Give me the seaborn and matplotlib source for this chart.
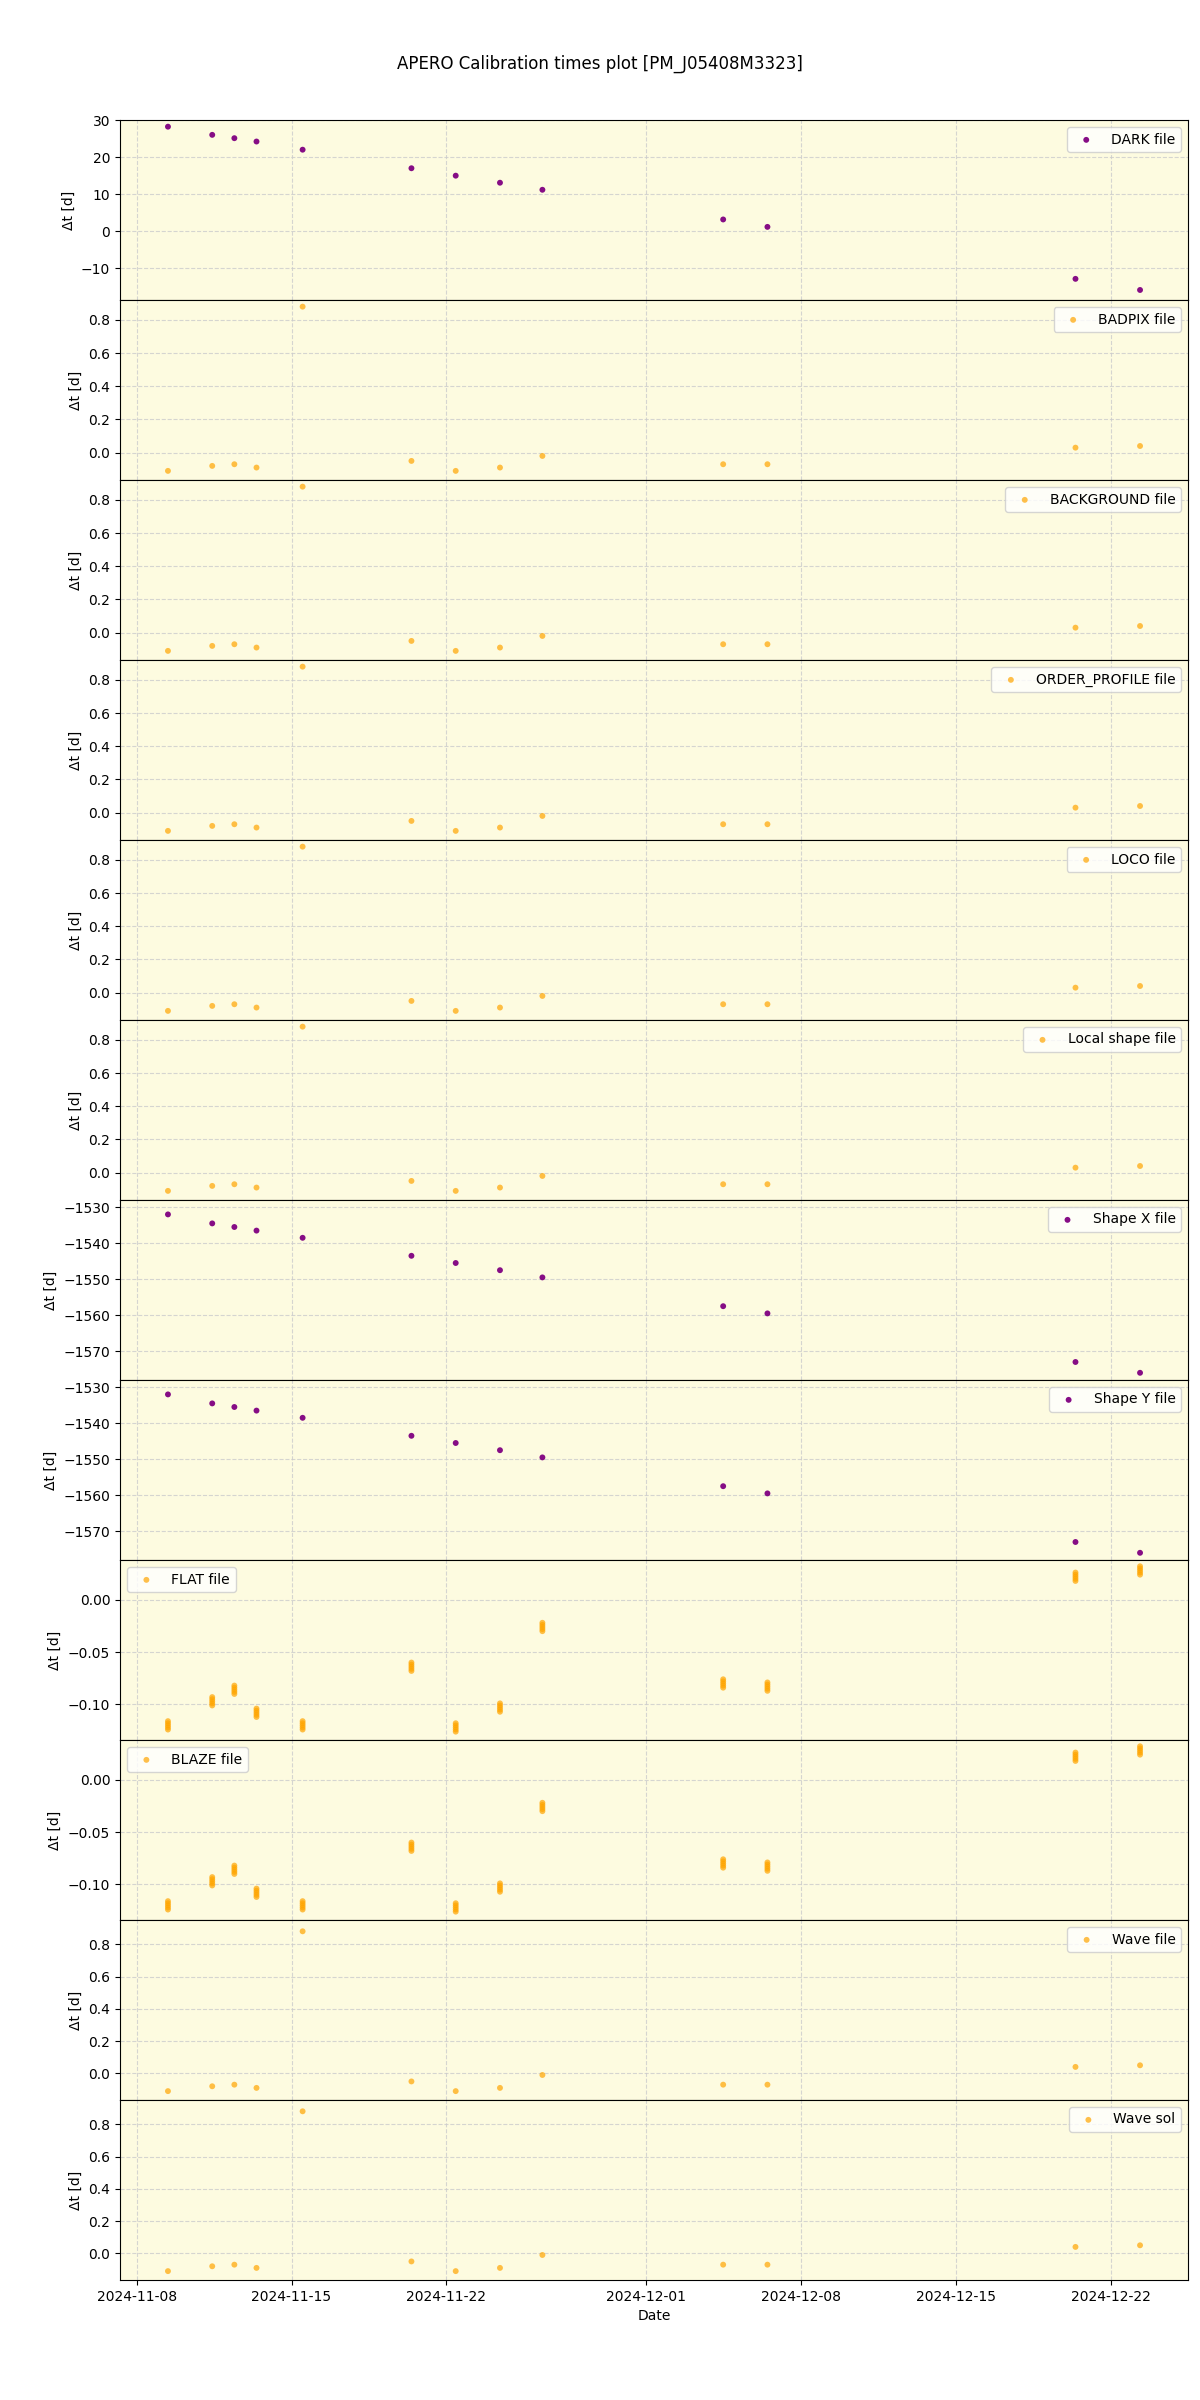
import matplotlib
matplotlib.use("Agg")
import matplotlib.pyplot as plt
import matplotlib.dates as mdates
import seaborn as sns
import pandas as pd

dates = ["2024-11-09 10:00","2024-11-11 10:00","2024-11-12 10:00","2024-11-13 10:00",
         "2024-11-15 12:00","2024-11-20 10:00","2024-11-22 10:00","2024-11-24 10:00",
         "2024-11-26 08:00","2024-12-04 12:00","2024-12-06 12:00","2024-12-20 10:00",
         "2024-12-23 08:00"]
dark = [28.2, 26.0, 25.1, 24.2, 22.0, 17.0, 15.0, 13.1, 11.2, 3.2, 1.2, -12.8, -15.8]
badpix = [-0.11, -0.08, -0.07, -0.09, 0.88, -0.05, -0.11, -0.09, -0.02, -0.07, -0.07, 0.03, 0.04]
background = [-0.11, -0.08, -0.07, -0.09, 0.88, -0.05, -0.11, -0.09, -0.02, -0.07, -0.07, 0.03, 0.04]
order_profile = [-0.11, -0.08, -0.07, -0.09, 0.88, -0.05, -0.11, -0.09, -0.02, -0.07, -0.07, 0.03, 0.04]
loco = [-0.11, -0.08, -0.07, -0.09, 0.88, -0.05, -0.11, -0.09, -0.02, -0.07, -0.07, 0.03, 0.04]
local_shape = [-0.11, -0.08, -0.07, -0.09, 0.88, -0.05, -0.11, -0.09, -0.02, -0.07, -0.07, 0.03, 0.04]
shape_x = [-1532.0, -1534.5, -1535.5, -1536.5, -1538.5, -1543.5, -1545.5, -1547.5, -1549.5, -1557.5, -1559.5, -1573.0, -1576.0]
shape_y = [-1532.0, -1534.5, -1535.5, -1536.5, -1538.5, -1543.5, -1545.5, -1547.5, -1549.5, -1557.5, -1559.5, -1573.0, -1576.0]
flat = [-0.120, -0.097, -0.086, -0.108, -0.120, -0.064, -0.122, -0.103, -0.026, -0.080, -0.083, 0.022, 0.028]
blaze = [-0.120, -0.097, -0.086, -0.108, -0.120, -0.064, -0.122, -0.103, -0.026, -0.080, -0.083, 0.022, 0.028]
wave_file = [-0.11, -0.08, -0.07, -0.09, 0.88, -0.05, -0.11, -0.09, -0.01, -0.07, -0.07, 0.04, 0.05]
wave_sol = [-0.11, -0.08, -0.07, -0.09, 0.88, -0.05, -0.11, -0.09, -0.01, -0.07, -0.07, 0.04, 0.05]
spread = [-0.004, -0.002, 0.0, 0.002, 0.004]

PURPLE = "purple"
ORANGE = "orange"
panels = [
    ("DARK file", dark, PURPLE, (-18.5, 30), "upper right", False),
    ("BADPIX file", badpix, ORANGE, (-0.165, 0.92), "upper right", False),
    ("BACKGROUND file", background, ORANGE, (-0.165, 0.92), "upper right", False),
    ("ORDER_PROFILE file", order_profile, ORANGE, (-0.165, 0.92), "upper right", False),
    ("LOCO file", loco, ORANGE, (-0.165, 0.92), "upper right", False),
    ("Local shape file", local_shape, ORANGE, (-0.165, 0.92), "upper right", False),
    ("Shape X file", shape_x, PURPLE, (-1578, -1528), "upper right", False),
    ("Shape Y file", shape_y, PURPLE, (-1578, -1528), "upper right", False),
    ("FLAT file", flat, ORANGE, (-0.134, 0.038), "upper left", True),
    ("BLAZE file", blaze, ORANGE, (-0.134, 0.038), "upper left", True),
    ("Wave file", wave_file, ORANGE, (-0.165, 0.95), "upper right", False),
    ("Wave sol", wave_sol, ORANGE, (-0.165, 0.95), "upper right", False),
]

fig, axes = plt.subplots(len(panels), 1, figsize=(12, 24), dpi=100, sharex=True)
fig.subplots_adjust(left=0.10, right=0.99, top=0.95, bottom=0.05, hspace=0)
fig.suptitle("APERO Calibration times plot [PM_J05408M3323]", y=0.977, fontsize=12)
dt = pd.to_datetime(dates)
for ax, (label, vals, col, yl, loc, multi) in zip(axes, panels):
    if multi:
        xs, ys = [], []
        for d, v in zip(dt, vals):
            for s in spread:
                xs.append(d); ys.append(v + s)
        df = pd.DataFrame({"x": xs, "y": ys})
    else:
        df = pd.DataFrame({"x": dt, "y": vals})
    ax.set_facecolor("#fdfbe0")
    sns.scatterplot(data=df, x="x", y="y", ax=ax, color=col, s=18,
                    alpha=0.95 if col == PURPLE else 0.7,
                    edgecolor="none", label=label, zorder=3)
    ax.set_ylim(*yl)
    ax.set_ylabel("Δt [d]")
    ax.set_xlabel("")
    ax.grid(True, linestyle="--", color="#cccccc", alpha=0.8)
    ax.legend(loc=loc)
axes[-1].set_xlim(pd.Timestamp("2024-11-07 06:00"), pd.Timestamp("2024-12-25 12:00"))
axes[-1].xaxis.set_major_locator(mdates.AutoDateLocator())
axes[-1].xaxis.set_major_formatter(mdates.DateFormatter("%Y-%m-%d"))
axes[-1].set_xlabel("Date")
fig.savefig("out.png")
